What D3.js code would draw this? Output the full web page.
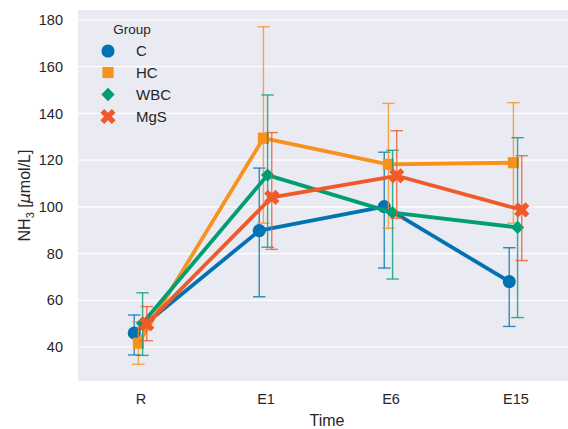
<!DOCTYPE html>
<html>
<head>
<meta charset="utf-8">
<script src="https://cdn.jsdelivr.net/npm/d3@7"></script>
<style>
  html, body { margin: 0; padding: 0; background: #fff; }
  svg { display: block; font-family: "Liberation Sans", Arial, sans-serif; }
</style>
</head>
<body>
<div id="chart"></div>
<script>
  // Données
  const times = ["R", "E1", "E6", "E15"];
  const groups = ["C", "HC", "WBC", "MgS"];
  const colors = ["#0173b2", "#f7921e", "#029e73", "#f05a28"];
  const yTicks = [40, 60, 80, 100, 120, 140, 160, 180];

  const meanC = [46.0, 89.8, 100.1, 68.0];
  const meanHC = [41.6, 129.4, 118.2, 118.9];
  const meanWBC = [50.2, 113.6, 97.5, 91.2];
  const meanMgS = [49.9, 104.1, 113.3, 98.7];

  const lowC = [36.6, 61.5, 73.8, 48.8];
  const lowHC = [32.6, 93.0, 90.8, 93.0];
  const lowWBC = [36.4, 82.7, 69.1, 52.6];
  const lowMgS = [42.7, 81.8, 95.1, 77.0];

  const highC = [53.7, 116.6, 123.4, 82.5];
  const highHC = [50.8, 177.1, 144.3, 144.6];
  const highWBC = [63.2, 147.9, 124.2, 129.6];
  const highMgS = [57.3, 131.8, 132.6, 121.9];

  const means = [meanC, meanHC, meanWBC, meanMgS];
  const lows = [lowC, lowHC, lowWBC, lowMgS];
  const highs = [highC, highHC, highWBC, highMgS];

  const width = 568, height = 429;
  const m = { left: 78, right: 578, top: 10, bottom: 381 };

  const svg = d3.select("#chart").append("svg")
    .attr("width", width).attr("height", height);

  const x = d3.scaleLinear().domain([-0.5, times.length - 0.5]).range([m.left, m.right]);
  const y = d3.scaleLinear().domain([25.44, 184.28]).range([m.bottom, m.top]);

  // fond + grille
  svg.append("rect")
    .attr("x", m.left).attr("y", m.top)
    .attr("width", m.right - m.left).attr("height", m.bottom - m.top)
    .attr("fill", "#eaeaf2");

  svg.append("g")
    .selectAll("line")
    .data(yTicks)
    .join("line")
    .attr("x1", m.left).attr("x2", m.right)
    .attr("y1", d => y(d)).attr("y2", d => y(d))
    .attr("stroke", "#fff").attr("stroke-width", 1.2);

  // axes (sans traits)
  const yAxis = svg.append("g")
    .attr("transform", `translate(${m.left},0)`)
    .call(d3.axisLeft(y).tickValues(yTicks).tickSize(0).tickPadding(15));
  yAxis.select(".domain").remove();
  yAxis.selectAll("text")
    .attr("font-size", "14.5px").attr("fill", "#262626")
    .attr("font-family", "Liberation Sans, Arial, sans-serif");

  const xAxis = svg.append("g")
    .attr("transform", `translate(0,${m.bottom})`)
    .call(d3.axisBottom(x).tickValues(d3.range(times.length))
      .tickFormat(i => times[i]).tickSize(0).tickPadding(13));
  xAxis.select(".domain").remove();
  xAxis.selectAll("text")
    .attr("font-size", "14.5px").attr("fill", "#262626")
    .attr("font-family", "Liberation Sans, Arial, sans-serif");

  // titres des axes
  svg.append("text")
    .attr("x", (m.left + m.right) / 2 - 1).attr("y", 426)
    .attr("text-anchor", "middle")
    .attr("font-size", "16px").attr("fill", "#262626")
    .text("Time");

  const yl = svg.append("text")
    .attr("transform", `translate(30,${(m.top + m.bottom) / 2}) rotate(-90)`)
    .attr("text-anchor", "middle")
    .attr("font-size", "16px").attr("fill", "#262626");
  yl.append("tspan").text("NH");
  yl.append("tspan").attr("font-size", "11px").attr("dy", 4).text("3");
  yl.append("tspan").attr("dy", -4).text(" [");
  yl.append("tspan").attr("font-style", "italic")
    .attr("font-family", "DejaVu Sans, sans-serif").text("\u03bc");
  yl.append("tspan").text("mol/L]");

  // décalage (dodge) seaborn
  const dodge = 0.1;
  const offsets = groups.map((g, i) => -dodge / 2 + i * dodge / (groups.length - 1));

  const symbols = [
    d3.symbol().type(d3.symbolCircle).size(135),
    d3.symbol().type(d3.symbolSquare).size(125),
    d3.symbol().type(d3.symbolSquare).size(88),
    d3.symbol().type(d3.symbolCross).size(145)
  ];
  const rot = [0, 0, 45, 45];

  const capHalf = 6.2;

  groups.forEach((g, gi) => {
    const pts = times.map((t, ti) => ({
      px: x(ti + offsets[gi]),
      mean: means[gi][ti], lo: lows[gi][ti], hi: highs[gi][ti]
    }));
    const layer = svg.append("g");

    // barres d'erreur
    const eb = layer.append("g")
      .attr("stroke", colors[gi]).attr("stroke-width", 1.4)
      .attr("stroke-opacity", 0.8);
    eb.selectAll("line.v").data(pts).join("line")
      .attr("x1", d => d.px).attr("x2", d => d.px)
      .attr("y1", d => y(d.lo)).attr("y2", d => y(d.hi));
    eb.selectAll("line.lo").data(pts).join("line")
      .attr("x1", d => d.px - capHalf).attr("x2", d => d.px + capHalf)
      .attr("y1", d => y(d.lo)).attr("y2", d => y(d.lo));
    eb.selectAll("line.hi").data(pts).join("line")
      .attr("x1", d => d.px - capHalf).attr("x2", d => d.px + capHalf)
      .attr("y1", d => y(d.hi)).attr("y2", d => y(d.hi));

    // ligne
    layer.append("path")
      .datum(pts)
      .attr("fill", "none")
      .attr("stroke", colors[gi]).attr("stroke-width", 3.8)
      .attr("stroke-linejoin", "round")
      .attr("d", d3.line().x(d => d.px).y(d => y(d.mean)));

    // marqueurs
    layer.append("g").selectAll("path").data(pts).join("path")
      .attr("transform", d => `translate(${d.px},${y(d.mean)}) rotate(${rot[gi]})`)
      .attr("d", symbols[gi]())
      .attr("fill", colors[gi]);
  });

  // légende
  const leg = svg.append("g");
  leg.append("text")
    .attr("x", 132).attr("y", 34)
    .attr("text-anchor", "middle")
    .attr("font-size", "13.5px").attr("fill", "#262626")
    .text("Group");
  const rows = [51, 72.5, 94.5, 116.5];
  groups.forEach((g, gi) => {
    leg.append("path")
      .attr("transform", `translate(108,${rows[gi]}) rotate(${rot[gi]})`)
      .attr("d", symbols[gi]())
      .attr("fill", colors[gi]);
    leg.append("text")
      .attr("x", 136).attr("y", rows[gi])
      .attr("dy", "0.36em")
      .attr("font-size", "15px").attr("fill", "#262626")
      .text(g);
  });
</script>
</body>
</html>
